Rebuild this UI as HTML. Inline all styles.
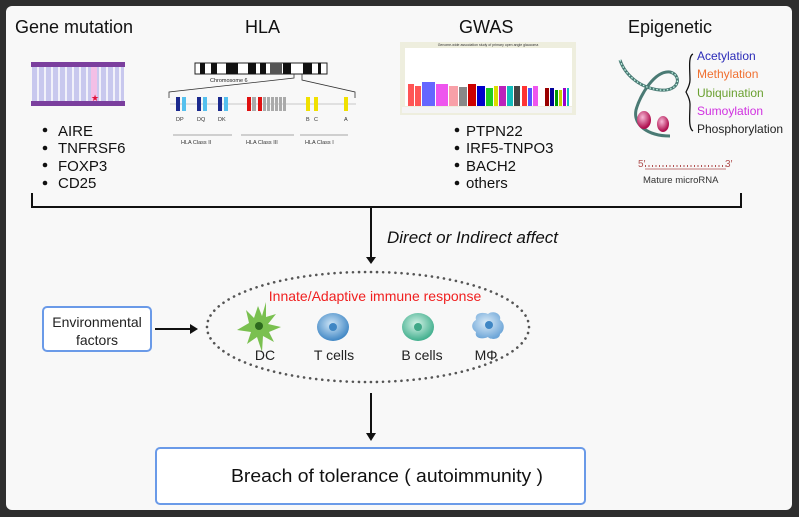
<!DOCTYPE html>
<html><head><meta charset="utf-8"><style>
html,body{margin:0;padding:0;background:#3a3a3a;}
body{width:799px;height:517px;overflow:hidden;position:relative;}
svg{position:absolute;left:0;top:0;font-family:"Liberation Sans",sans-serif;}
</style></head><body>
<svg width="799" height="517" viewBox="0 0 799 517">
<defs>
<radialGradient id="tc" cx="0.45" cy="0.4" r="0.6"><stop offset="0" stop-color="#cfe6f7"/><stop offset="1" stop-color="#3f86c4"/></radialGradient>
<radialGradient id="bc" cx="0.45" cy="0.4" r="0.6"><stop offset="0" stop-color="#d6f3e8"/><stop offset="1" stop-color="#3fae8c"/></radialGradient>
<radialGradient id="mc" cx="0.45" cy="0.4" r="0.6"><stop offset="0" stop-color="#dcecf8"/><stop offset="1" stop-color="#6ea6d8"/></radialGradient>
<radialGradient id="nu" cx="0.4" cy="0.35" r="0.6"><stop offset="0" stop-color="#f7b8d6"/><stop offset="1" stop-color="#b0104f"/></radialGradient>
</defs>
<rect x="0" y="0" width="799" height="517" fill="#2e2e2e"/>
<rect x="6" y="6" width="786" height="504" rx="6" fill="#f8f8f8"/>

<g font-size="18" fill="#111">
<text x="15" y="33">Gene mutation</text>
<text x="245" y="33">HLA</text>
<text x="459" y="33">GWAS</text>
<text x="628" y="33">Epigenetic</text>
</g>

<rect x="32" y="64" width="92" height="40" fill="#c8c8ee"/>
<g stroke="#fff" stroke-width="1.5">
<line x1="38" y1="66" x2="38" y2="102"/><line x1="45" y1="66" x2="45" y2="102"/><line x1="52" y1="66" x2="52" y2="102"/><line x1="59" y1="66" x2="59" y2="102"/><line x1="66" y1="66" x2="66" y2="102"/><line x1="73" y1="66" x2="73" y2="102"/><line x1="80" y1="66" x2="80" y2="102"/><line x1="87" y1="66" x2="87" y2="102"/><line x1="100" y1="66" x2="100" y2="102"/><line x1="107" y1="66" x2="107" y2="102"/><line x1="114" y1="66" x2="114" y2="102"/><line x1="120" y1="66" x2="120" y2="102"/>
</g>
<rect x="91" y="66" width="6" height="36" fill="#f3bfe6"/>
<rect x="31" y="62" width="94" height="5" fill="#7b3f9e"/>
<rect x="31" y="101" width="94" height="5" fill="#7b3f9e"/>
<text x="91" y="101" font-size="9" fill="#e0103a">★</text>

<g font-size="15" fill="#111">
<circle cx="45" cy="130" r="2.3"/><text x="58" y="136">AIRE</text>
<circle cx="45" cy="148" r="2.3"/><text x="58" y="153">TNFRSF6</text>
<circle cx="45" cy="165" r="2.3"/><text x="58" y="171">FOXP3</text>
<circle cx="45" cy="183" r="2.3"/><text x="58" y="188">CD25</text>
</g>

<rect x="195" y="63" width="132" height="11" fill="#fff" stroke="#222" stroke-width="1"/>
<g fill="#111">
<rect x="200" y="63" width="5" height="11"/><rect x="211" y="63" width="6" height="11"/><rect x="226" y="63" width="12" height="11"/><rect x="248" y="63" width="8" height="11"/><rect x="260" y="63" width="6" height="11"/><rect x="270" y="63" width="12" height="11" fill="#555"/><rect x="283" y="63" width="8" height="11"/><rect x="303" y="63" width="9" height="11"/><rect x="318" y="63" width="3" height="11"/>
</g>
<text x="210" y="82" font-size="5.5" fill="#222">Chromosome 6</text>
<polyline points="169,98 169,92 294,78 294,74" fill="none" stroke="#333" stroke-width="0.8"/>
<polyline points="355,98 355,92 302,80 302,74" fill="none" stroke="#333" stroke-width="0.8"/>
<line x1="170" y1="104" x2="356" y2="104" stroke="#999" stroke-width="0.6"/>
<g>
<rect x="176" y="97" width="4" height="14" fill="#1c2a8e"/><rect x="182" y="97" width="4" height="14" fill="#55c0ee"/>
<rect x="197" y="97" width="4" height="14" fill="#1c2a8e"/><rect x="203" y="97" width="4" height="14" fill="#55c0ee"/>
<rect x="218" y="97" width="4" height="14" fill="#1c2a8e"/><rect x="224" y="97" width="4" height="14" fill="#55c0ee"/>
<rect x="247" y="97" width="4" height="14" fill="#e01010"/><rect x="252" y="97" width="4" height="14" fill="#aaa"/><rect x="258" y="97" width="4" height="14" fill="#e01010"/>
<rect x="263" y="97" width="3" height="14" fill="#aaa"/><rect x="267" y="97" width="3" height="14" fill="#aaa"/><rect x="271" y="97" width="3" height="14" fill="#aaa"/><rect x="275" y="97" width="3" height="14" fill="#aaa"/><rect x="279" y="97" width="3" height="14" fill="#aaa"/><rect x="283" y="97" width="3" height="14" fill="#aaa"/>
<rect x="306" y="97" width="4" height="14" fill="#f0e000"/><rect x="314" y="97" width="4" height="14" fill="#f0e000"/><rect x="344" y="97" width="4" height="14" fill="#f0e000"/>
</g>
<g font-size="5.5" fill="#333">
<text x="176" y="121">DP</text><text x="197" y="121">DQ</text><text x="218" y="121">DK</text>
<text x="306" y="121">B</text><text x="314" y="121">C</text><text x="344" y="121">A</text>
<text x="181" y="144">HLA Class II</text><text x="246" y="144">HLA Class III</text><text x="305" y="144">HLA Class I</text>
</g>
<g stroke="#555" stroke-width="0.6">
<line x1="173" y1="135" x2="232" y2="135"/><line x1="241" y1="135" x2="294" y2="135"/><line x1="300" y1="135" x2="348" y2="135"/>
</g>

<rect x="400" y="42" width="176" height="73" fill="#eeeede"/>
<rect x="405" y="48" width="167" height="58" fill="#fff"/>
<text x="488" y="46" font-size="3.5" text-anchor="middle" fill="#333">Genome-wide association study of primary open angle glaucoma</text>
<g>
<rect x="408" y="84" width="6" height="22" fill="#f55"/><rect x="415" y="86" width="6" height="20" fill="#f55"/>
<rect x="422" y="82" width="13" height="24" fill="#66f"/><rect x="436" y="84" width="12" height="22" fill="#e5e"/>
<rect x="449" y="86" width="9" height="20" fill="#f8a0a8"/><rect x="459" y="87" width="8" height="19" fill="#888"/>
<rect x="468" y="84" width="8" height="22" fill="#c00"/><rect x="477" y="86" width="8" height="20" fill="#00c"/>
<rect x="486" y="88" width="7" height="18" fill="#2c2"/><rect x="494" y="86" width="4" height="20" fill="#dd0"/>
<rect x="499" y="86" width="7" height="20" fill="#b2b"/><rect x="507" y="86" width="6" height="20" fill="#1bb"/>
<rect x="514" y="86" width="6" height="20" fill="#444"/><rect x="522" y="86" width="5" height="20" fill="#f33"/>
<rect x="528" y="88" width="4" height="18" fill="#55f"/><rect x="533" y="86" width="5" height="20" fill="#e5e"/>
<rect x="545" y="88" width="4" height="18" fill="#900"/><rect x="550" y="88" width="4" height="18" fill="#009"/>
<rect x="555" y="90" width="3" height="16" fill="#090"/><rect x="559" y="90" width="3" height="16" fill="#cc0"/>
<rect x="563" y="88" width="3" height="18" fill="#90c"/><rect x="567" y="88" width="2" height="18" fill="#1bb"/>
</g>
<rect x="402" y="107" width="170" height="6" fill="#f4f4f4"/>
<g font-size="15" fill="#111">
<circle cx="457" cy="130" r="2.3"/><text x="466" y="136">PTPN22</text>
<circle cx="457" cy="148" r="2.3"/><text x="466" y="153">IRF5-TNPO3</text>
<circle cx="457" cy="165" r="2.3"/><text x="466" y="171">BACH2</text>
<circle cx="457" cy="183" r="2.3"/><text x="466" y="188">others</text>
</g>

<g fill="none" stroke="#4a7a74" stroke-width="3">
<path d="M620 60 C625 75 640 88 660 90 C680 92 682 75 670 72 C655 70 640 95 636 110 C633 125 648 136 670 136"/>
</g>
<g fill="none" stroke="#cfe" stroke-width="1.2" stroke-dasharray="1.5 2"><path d="M620 60 C625 75 640 88 660 90 C680 92 682 75 670 72"/></g>
<ellipse cx="644" cy="120" rx="7" ry="9" fill="url(#nu)"/>
<ellipse cx="663" cy="124" rx="6" ry="8" fill="url(#nu)"/>
<path d="M693 54 C688 56 690 70 690 80 C690 85 687 90 686 92 C687 94 690 99 690 104 C690 115 688 128 693 131" fill="none" stroke="#111" stroke-width="1.3"/>
<g font-size="12">
<text x="697" y="60" fill="#2a2ab8">Acetylation</text>
<text x="697" y="78" fill="#f07030">Methylation</text>
<text x="697" y="97" fill="#6aa030">Ubiquination</text>
<text x="697" y="115" fill="#d030e0">Sumoylation</text>
<text x="697" y="133" fill="#222">Phosphorylation</text>
</g>
<text x="638" y="167" font-size="10" fill="#b05050">5′</text>
<text x="725" y="167" font-size="10" fill="#b05050">3′</text>
<line x1="645" y1="169" x2="726" y2="169" stroke="#b05050" stroke-width="0.8"/>
<line x1="645" y1="166" x2="726" y2="166" stroke="#b05050" stroke-width="2" stroke-dasharray="1 2.5"/>
<text x="643" y="183" font-size="9.5" fill="#333">Mature microRNA</text>

<polyline points="32,193 32,207 741,207 741,193" fill="none" stroke="#111" stroke-width="2"/>
<line x1="371" y1="207" x2="371" y2="258" stroke="#111" stroke-width="2"/>
<polygon points="366,257 376,257 371,264" fill="#111"/>
<text x="387" y="243" font-size="17" font-style="italic" fill="#111">Direct or Indirect affect</text>

<rect x="43" y="307" width="108" height="44" rx="4" fill="#fff" stroke="#6a9ae8" stroke-width="2"/>
<text x="97" y="327" font-size="14" text-anchor="middle" fill="#222">Environmental</text>
<text x="97" y="345" font-size="14" text-anchor="middle" fill="#222">factors</text>
<line x1="155" y1="329" x2="192" y2="329" stroke="#111" stroke-width="2"/>
<polygon points="190,324 198,329 190,334" fill="#111"/>

<ellipse cx="368" cy="327" rx="161" ry="55" fill="none" stroke="#555" stroke-width="2.6" stroke-dasharray="0.1 6" stroke-linecap="round"/>
<text x="375" y="301" font-size="14" text-anchor="middle" fill="#f02020">Innate/Adaptive immune response</text>

<path d="M246 310 L254 318 L258 306 L262 316 L266 302 L266 317 L276 314 L268 324 L281 327 L269 332 L274 342 L263 336 L262 352 L257 337 L247 344 L251 332 L237 330 L249 323 Z" fill="#7ac050"/>
<circle cx="259" cy="326" r="4" fill="#2d6a1e"/>
<ellipse cx="333" cy="327" rx="16" ry="14" fill="url(#tc)"/><circle cx="333" cy="327" r="4" fill="#3f86c4"/>
<ellipse cx="418" cy="327" rx="16" ry="14" fill="url(#bc)"/><circle cx="418" cy="327" r="4" fill="#40a888"/>
<path d="M476 320 C474 312 484 312 488 314 C492 310 502 313 500 320 C506 324 504 332 500 334 C500 340 490 340 488 337 C482 340 474 338 476 332 C470 328 472 322 476 320 Z" fill="url(#mc)"/><circle cx="489" cy="325" r="4" fill="#3f86c4"/>
<g font-size="14" fill="#222" text-anchor="middle">
<text x="265" y="360">DC</text><text x="334" y="360">T cells</text><text x="422" y="360">B cells</text><text x="486" y="360">MΦ</text>
</g>

<line x1="371" y1="393" x2="371" y2="434" stroke="#111" stroke-width="2"/>
<polygon points="366,433 376,433 371,441" fill="#111"/>

<rect x="156" y="448" width="429" height="56" rx="4" fill="#fff" stroke="#6a9ae8" stroke-width="2"/>
<text x="231" y="482" font-size="18" textLength="312" lengthAdjust="spacingAndGlyphs" fill="#111">Breach of tolerance ( autoimmunity )</text>
</svg>
</body></html>
